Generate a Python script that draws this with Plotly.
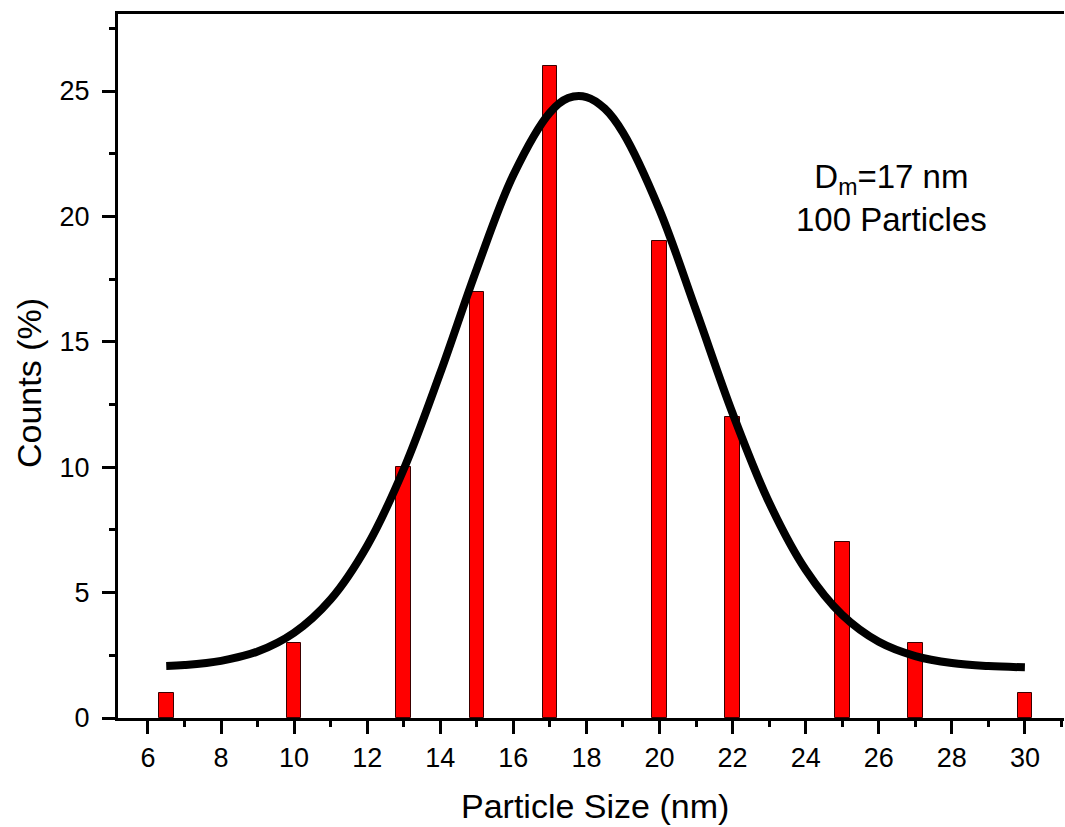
import plotly.graph_objects as go

# Histogram data
sizes = [6.5, 10, 13, 15, 17, 20, 22, 25, 27, 30]
counts = [1, 3, 10, 17, 26, 19, 12, 7, 3, 1]

# Fitted distribution curve
fit_x = [6.5, 7, 8, 9, 10, 11, 12, 13, 14, 15, 16, 17, 17.5, 18, 18.5, 19, 20,
         21, 22, 23, 24, 25, 26, 27, 28, 29, 30]
fit_y = [2.07, 2.11, 2.28, 2.65, 3.40, 4.73, 6.87, 9.92, 13.76, 17.91, 21.65,
         24.14, 24.72, 24.76, 24.30, 23.34, 20.26, 16.25, 12.15, 8.59, 5.91,
         4.11, 3.04, 2.47, 2.19, 2.07, 2.02]

x_ticks = list(range(6, 31, 2))
y_ticks = [0, 5, 10, 15, 20, 25]

FONT = "Liberation Sans, Arial, sans-serif"

fig = go.Figure()
fig.add_trace(go.Bar(
    x=sizes, y=counts, width=0.4,
    marker=dict(color="#FF0000", line=dict(color="#3a0000", width=1)),
    showlegend=False,
))
fig.add_trace(go.Scatter(
    x=fit_x, y=fit_y, mode="lines",
    line=dict(color="black", width=8, shape="spline", smoothing=1.0),
    showlegend=False,
))

L, R, T, B = 118, 1, 14, 109
W, H = 1065, 827
pw, ph = W - L - R, H - T - B

def px_to_paper(px, py):
    return (px - L) / pw, (H - B - py) / ph

xt_x, xt_y = px_to_paper(595, 806)
yt_x, yt_y = px_to_paper(29, 383)

fig.update_layout(
    width=W, height=H,
    margin=dict(l=L, r=R, t=T, b=B),
    paper_bgcolor="white", plot_bgcolor="white",
    font=dict(family=FONT, color="black"),
    bargap=0,
    xaxis=dict(
        range=[5.18, 31.07], tickvals=x_ticks, ticktext=[str(v) for v in x_ticks],
        showline=True, linecolor="black", linewidth=3, mirror=True,
        ticks="outside", ticklen=13, tickwidth=3, tickcolor="black",
        tickfont=dict(size=27, family=FONT, color="black"),
        ticklabelstandoff=1,
        minor=dict(dtick=1, tick0=5, ticks="outside", ticklen=6, tickwidth=3, tickcolor="black"),
        showgrid=False, zeroline=False,
    ),
    yaxis=dict(
        range=[0, 28.07], tickvals=y_ticks, ticktext=[str(v) for v in y_ticks],
        showline=True, linecolor="black", linewidth=3, mirror=False,
        ticks="outside", ticklen=13, tickwidth=3, tickcolor="black",
        tickfont=dict(size=27, family=FONT, color="black"),
        ticklabelstandoff=7,
        minor=dict(dtick=2.5, tick0=0, ticks="outside", ticklen=6, tickwidth=3, tickcolor="black"),
        showgrid=False, zeroline=False,
    ),
    annotations=[
        dict(text="Particle Size (nm)", xref="paper", yref="paper", x=xt_x, y=xt_y,
             showarrow=False, font=dict(size=34, family=FONT, color="black"),
             xanchor="center", yanchor="middle"),
        dict(text="Counts (%)", xref="paper", yref="paper", x=yt_x, y=yt_y,
             showarrow=False, textangle=-90, font=dict(size=34, family=FONT, color="black"),
             xanchor="center", yanchor="middle"),
        dict(text="D<sub>m</sub>=17 nm<br>100 Particles", xref="x", yref="y",
             x=26.36, y=20.75, showarrow=False, align="center",
             font=dict(size=33, family=FONT, color="black"),
             xanchor="center", yanchor="middle"),
    ],
)

fig.write_html(
    "out.html",
    config={"displayModeBar": False},
    post_script="document.body.style.margin='0';document.body.style.overflow='hidden';",
)
